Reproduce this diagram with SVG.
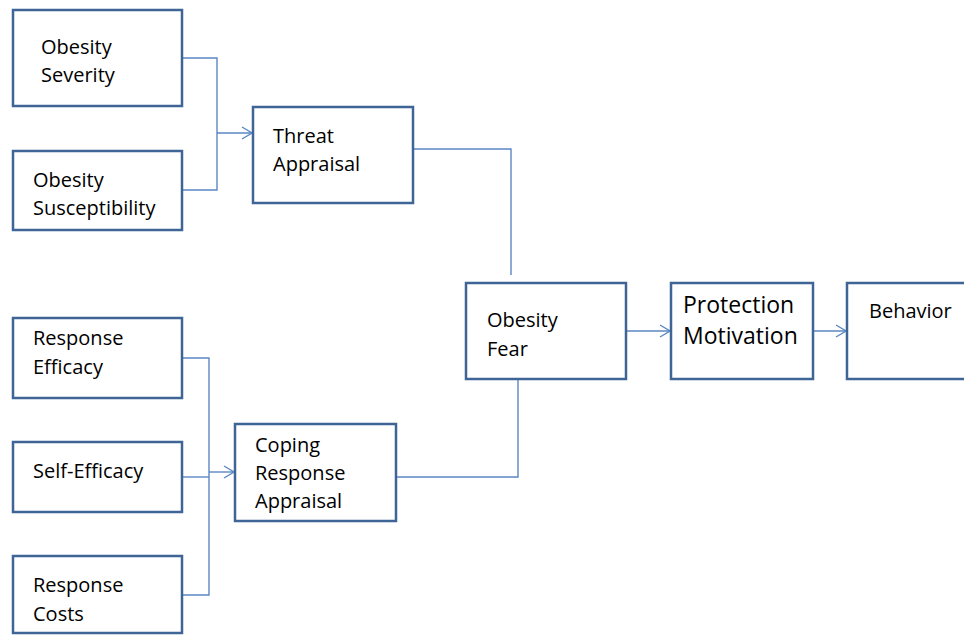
<svg xmlns="http://www.w3.org/2000/svg" width="964" height="635" viewBox="0 0 964 635">
<style>
.box{fill:#fff;stroke:#3f6496;stroke-width:2.5}
.t{font-family:"Open Sans","Liberation Sans",sans-serif;font-size:20px;fill:#000}
.big{font-size:23px}
.c{fill:none;stroke:#5b87c3;stroke-width:1.4}
</style>
<defs>
<marker id="ah" markerWidth="12" markerHeight="14" refX="11" refY="7" orient="auto" markerUnits="userSpaceOnUse">
<path d="M1,1 L11,7 L1,13" fill="none" stroke="#5b87c3" stroke-width="1.4"/>
</marker>
</defs>
<rect width="964" height="635" fill="#fff"/>
<g id="connectors">
<polyline class="c" points="182,58 217,58 217,190 182,190"/>
<line class="c" x1="217" y1="133" x2="252" y2="133" marker-end="url(#ah)"/>
<polyline class="c" points="413,149 511,149 511,275"/>
<polyline class="c" points="182,358 209,358 209,595 182,595"/>
<line class="c" x1="182" y1="477" x2="209" y2="477"/>
<line class="c" x1="209" y1="472" x2="234" y2="472" marker-end="url(#ah)"/>
<polyline class="c" points="396,477 518,477 518,380"/>
<line class="c" x1="627" y1="331" x2="670" y2="331" marker-end="url(#ah)"/>
<line class="c" x1="813" y1="331" x2="846" y2="331" marker-end="url(#ah)"/>
</g>
<g id="obesity-severity">
<rect class="box" x="13" y="10" width="169" height="96"/>
<text class="t" x="41" y="54">Obesity</text>
<text class="t" x="41" y="82">Severity</text>
</g>
<g id="obesity-susceptibility">
<rect class="box" x="13" y="151" width="169" height="79"/>
<text class="t" x="33" y="187">Obesity</text>
<text class="t" x="33" y="215">Susceptibility</text>
</g>
<g id="threat-appraisal">
<rect class="box" x="253" y="107" width="160" height="96"/>
<text class="t" x="273" y="143">Threat</text>
<text class="t" x="273" y="171">Appraisal</text>
</g>
<g id="response-efficacy">
<rect class="box" x="13" y="318" width="169" height="80"/>
<text class="t" x="33" y="345">Response</text>
<text class="t" x="33" y="374">Efficacy</text>
</g>
<g id="self-efficacy">
<rect class="box" x="13" y="442" width="169" height="70"/>
<text class="t" x="33" y="478">Self-Efficacy</text>
</g>
<g id="response-costs">
<rect class="box" x="13" y="556" width="169" height="77"/>
<text class="t" x="33" y="592">Response</text>
<text class="t" x="33" y="621">Costs</text>
</g>
<g id="coping-response-appraisal">
<rect class="box" x="235" y="424" width="161" height="97"/>
<text class="t" x="255" y="452">Coping</text>
<text class="t" x="255" y="480">Response</text>
<text class="t" x="255" y="508">Appraisal</text>
</g>
<g id="obesity-fear">
<rect class="box" x="466" y="283" width="160" height="96"/>
<text class="t" x="487" y="327">Obesity</text>
<text class="t" x="487" y="356">Fear</text>
</g>
<g id="protection-motivation">
<rect class="box" x="671" y="283" width="142" height="96"/>
<text class="t big" x="683" y="313">Protection</text>
<text class="t big" x="683" y="344">Motivation</text>
</g>
<g id="behavior">
<rect class="box" x="847" y="283" width="130" height="96"/>
<text class="t" x="869" y="318">Behavior</text>
</g>
</svg>
